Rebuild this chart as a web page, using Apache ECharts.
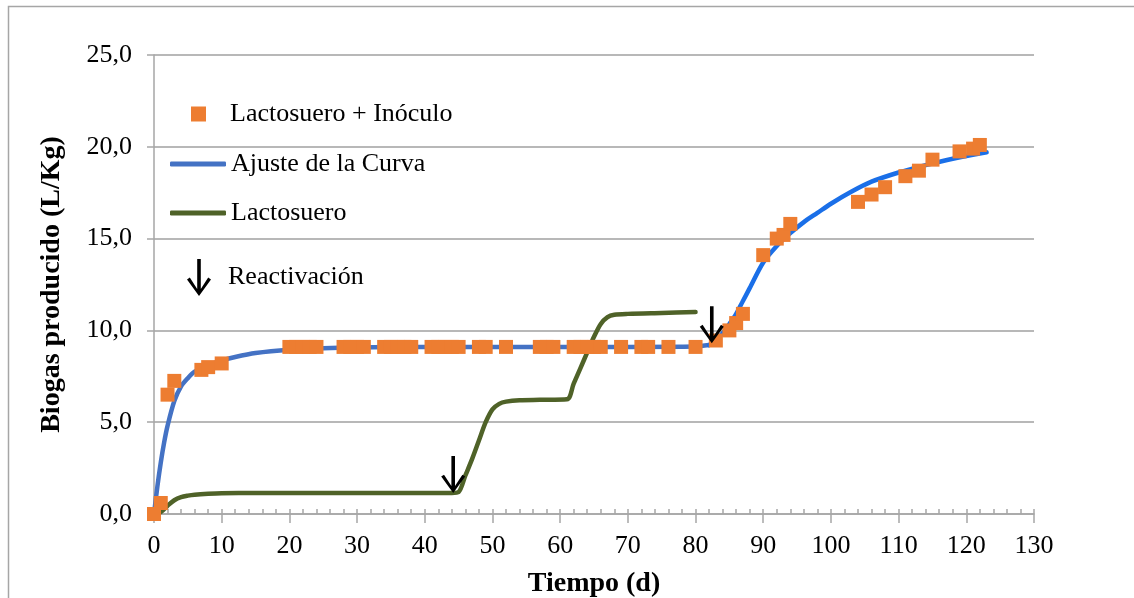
<!DOCTYPE html>
<html>
<head>
<meta charset="utf-8">
<script src="https://cdn.jsdelivr.net/npm/echarts@6/dist/echarts.min.js"></script>
<style>
html,body{margin:0;padding:0;background:#fff;}
#chart{width:1134px;height:598px;}
</style>
</head>
<body>
<div id="chart"></div>
<script>
// ---- Data ----
const xTicks = [0,10,20,30,40,50,60,70,80,90,100,110,120,130];
const yTickLabels = ['0,0','5,0','10,0','15,0','20,0','25,0'];

// Lactosuero + Inóculo (measured points)
const inoculoX = [0,1,2,3,7,8,10,
  20,21,22,23,24,28,29,30,31,34,35,36,37,38,41,42,43,44,45,48,49,52,57,58,59,62,63,64,65,66,69,72,73,76,80,
  83,85,86,87,90,92,93,94,104,106,108,111,113,115,119,121,122];
const inoculoY = [0,0.6,6.5,7.25,7.85,8.0,8.2,
  9.1,9.1,9.1,9.1,9.1,9.1,9.1,9.1,9.1,9.1,9.1,9.1,9.1,9.1,9.1,9.1,9.1,9.1,9.1,9.1,9.1,9.1,9.1,9.1,9.1,9.1,9.1,9.1,9.1,9.1,9.1,9.1,9.1,9.1,9.1,
  9.45,10.0,10.4,10.9,14.1,15.0,15.2,15.8,17.0,17.4,17.8,18.4,18.7,19.3,19.75,19.9,20.1];

// Ajuste de la Curva (first phase)
const ajuste1X = [0,0.5,1,1.5,2,3,4,5,6,8,10,12,15,20,25,30,40,50,60,70,80,82];
const ajuste1Y = [0,1.5,2.8,3.9,4.8,6.15,6.95,7.4,7.75,8.1,8.35,8.55,8.77,8.95,9.03,9.07,9.1,9.1,9.1,9.1,9.12,9.2];
// Ajuste de la Curva (after reactivation)
const ajuste2X = [82,83,84,85,86,87,88,90,92,94,96,98,100,103,106,110,114,118,123];
const ajuste2Y = [9.2,9.45,9.85,10.35,10.9,11.6,12.3,13.7,14.6,15.3,15.9,16.4,16.9,17.55,18.1,18.6,19.0,19.35,19.7];

// Lactosuero
const lactoX = [0,1,2,3,4,5,6,8,10,15,20,30,40,44,45,46,47,48,49,50,51,52,54,57,61,62,63,64,65,66,67,68,70,75,80];
const lactoY = [0,0.1,0.45,0.75,0.92,1.0,1.05,1.1,1.13,1.14,1.15,1.15,1.15,1.15,1.2,2.1,3.0,4.0,5.0,5.7,6.0,6.12,6.2,6.22,6.25,7.1,7.95,8.8,9.65,10.35,10.72,10.85,10.9,10.95,11.0];

// Reactivación arrows
const reactX = [44.2, 82.4];
const reactY = [1.14, 9.3];

// ---- Build ----
const zip = (a,b) => a.map((v,i) => [v,b[i]]);
const FONT = 'Liberation Serif, Times New Roman, serif';
const ARROW = 'path://M12,37 L0,20.5 L2.8,18.6 L10.2,30 L10.2,0 L13.8,0 L13.8,30 L21.2,18.6 L24,20.5 Z';
const legendText = {fontFamily: FONT, fontSize: 26, color: '#000'};

const chart = echarts.init(document.getElementById('chart'), null, {renderer: 'canvas'});
chart.setOption({
  animation: false,
  backgroundColor: '#fff',
  graphic: [{
    type: 'rect', silent: true, z: -1,
    shape: {x: 8.5, y: 6.5, width: 1300, height: 800},
    style: {fill: 'none', stroke: '#a6a6a6', lineWidth: 1.5}
  }],
  grid: {left: 154, right: 100, top: 55, bottom: 84, containLabel: false, outerBoundsMode: 'none'},
  legend: [
    {data: [{name: 'Lactosuero + Inóculo', icon: 'path://M0,0H10V10H0Z'}], left: 191, top: 101, padding: 0,
     itemWidth: 53, itemHeight: 15, textStyle: legendText, selectedMode: false},
    {data: [{name: 'Ajuste de la Curva', icon: 'roundRect'}], left: 170, top: 151, padding: 0,
     itemWidth: 56, itemHeight: 5, textStyle: legendText, selectedMode: false},
    {data: [{name: 'Lactosuero', icon: 'roundRect'}], left: 170, top: 200, padding: 0,
     itemWidth: 56, itemHeight: 5, textStyle: legendText, selectedMode: false},
    {data: [{name: 'Reactivación', icon: ARROW}], left: 187, top: 259, padding: 0,
     itemWidth: 48, itemHeight: 37, textStyle: legendText, selectedMode: false}
  ],
  xAxis: [{
    type: 'value', min: 0, max: 130, interval: 10,
    axisLine: {show: true, lineStyle: {color: '#a6a6a6', width: 1.5}},
    axisTick: {show: true, inside: false, length: 9, lineStyle: {color: '#a6a6a6', width: 1.5}},
    axisLabel: {fontFamily: FONT, fontSize: 26, color: '#000', margin: 19,
      formatter: v => xTicks.includes(v) ? String(v) : ''},
    splitLine: {show: false},
    name: 'Tiempo (d)', nameLocation: 'middle', nameGap: 56,
    nameTextStyle: {fontFamily: FONT, fontSize: 28, fontWeight: 'bold', color: '#000'}
  }, {
    type: 'value', min: 0, max: 130, interval: 2, position: 'bottom',
    axisLine: {show: false},
    axisTick: {show: true, inside: true, length: 5, lineStyle: {color: '#a6a6a6', width: 1.5}},
    axisLabel: {show: false},
    splitLine: {show: false}
  }],
  yAxis: {
    type: 'value', min: 0, max: 25, interval: 5,
    axisLine: {show: true, lineStyle: {color: '#a6a6a6', width: 1.5}},
    axisTick: {show: true, inside: false, length: 7, lineStyle: {color: '#a6a6a6', width: 1.5}},
    axisLabel: {fontFamily: FONT, fontSize: 26, color: '#000', margin: 22,
      formatter: (v) => yTickLabels[Math.round(v / 5)]},
    splitLine: {show: true, lineStyle: {color: '#a0a0a0', width: 1.5}},
    name: 'Biogas producido (L/Kg)', nameLocation: 'middle', nameGap: 88,
    nameTextStyle: {fontFamily: FONT, fontSize: 28, fontWeight: 'bold', color: '#000'}
  },
  series: [
    {name: 'Ajuste de la Curva', type: 'line', xAxisIndex: 0, data: zip(ajuste1X, ajuste1Y),
     smooth: 0.3, showSymbol: false, symbol: 'none',
     color: '#4472C4', lineStyle: {color: '#4472C4', width: 4.5, cap: 'round'}, z: 2},
    {name: 'Ajuste (reactivación)', type: 'line', xAxisIndex: 0, data: zip(ajuste2X, ajuste2Y),
     smooth: 0.3, showSymbol: false, symbol: 'none',
     color: '#1a6fe8', lineStyle: {color: '#1a6fe8', width: 4.5, cap: 'round'}, z: 2},
    {name: 'Lactosuero', type: 'line', xAxisIndex: 0, data: zip(lactoX, lactoY),
     smooth: 0.3, showSymbol: false, symbol: 'none',
     color: '#4F6228', lineStyle: {color: '#4F6228', width: 4.5, cap: 'round', join: 'round'}, z: 2},
    {name: 'Lactosuero + Inóculo', type: 'scatter', xAxisIndex: 0, data: zip(inoculoX, inoculoY),
     symbol: 'rect', symbolSize: 14, color: '#ED7D31', itemStyle: {color: '#ED7D31', opacity: 1}, z: 3},
    {name: 'Reactivación', type: 'scatter', xAxisIndex: 0, data: zip(reactX, reactY),
     symbol: ARROW, symbolSize: [24, 37], symbolOffset: [0, -18.5],
     color: '#000', itemStyle: {color: '#000', opacity: 1}, z: 4}
  ]
});
</script>
</body>
</html>
